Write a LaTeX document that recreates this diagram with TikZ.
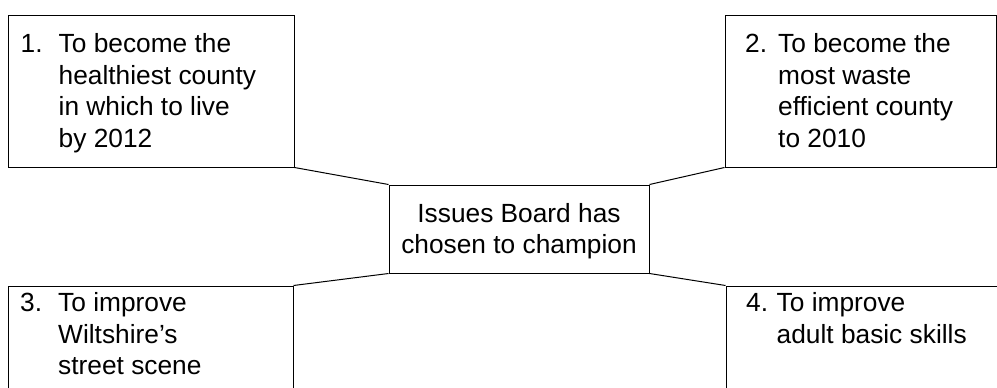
\documentclass[tikz,border=0pt]{standalone}
\usepackage{fontspec}
\setmainfont{Liberation Sans}
\begin{document}
\begin{tikzpicture}[x=1pt,y=-1pt,
  box/.style={draw, line width=1pt, rectangle, inner sep=0pt, minimum width=#1},
  lbl/.style={anchor=base west, inner sep=0pt, font=\fontsize{26.3}{31.5}\selectfont},
  ctr/.style={anchor=base, inner sep=0pt, font=\fontsize{26.3}{31.5}\selectfont},
  link/.style={line width=1pt}]
\useasboundingbox (0,0) rectangle (997,388);
\clip (0,0) rectangle (997,388);
\node[box=286pt, minimum height=152pt] (b1) at (151,91) {};
\node[box=271pt, minimum height=152pt] (b2) at (860.5,91) {};
\node[box=285pt, minimum height=130pt] (b3) at (150.5,351) {};
\node[box=360pt, minimum height=130pt] (b4) at (906,351) {};
\node[box=260pt, minimum height=88pt] (c) at (519,229) {};
\node[lbl] (t1) at (20.5,52.5) {\begin{tabular}[t]{@{}p{38pt}@{}l@{}}1.&To become the\\ &healthiest county\\ &in which to live\\ &by 2012\end{tabular}};
\node[lbl] (t2) at (745,52.5) {\begin{tabular}[t]{@{}p{33pt}@{}l@{}}2.&To become the\\ &most waste\\ &efficient county\\ &to 2010\end{tabular}};
\node[lbl] (t3) at (20,311.5) {\begin{tabular}[t]{@{}p{38pt}@{}l@{}}3.&To improve\\ &Wiltshire’s\\ &street scene\end{tabular}};
\node[lbl] (t4) at (746,311.5) {\begin{tabular}[t]{@{}p{30.5pt}@{}l@{}}4.&To improve\\ &adult basic skills\end{tabular}};
\node[ctr] (tc) at (519,222) {\begin{tabular}[t]{@{}c@{}}Issues Board has\\chosen to champion\end{tabular}};
\draw[link] (b1.south east) -- (c.north west);
\draw[link] (b2.south west) -- (c.north east);
\draw[link] (b3.north east) -- (c.south west);
\draw[link] (b4.north west) -- (c.south east);
\end{tikzpicture}
\end{document}
